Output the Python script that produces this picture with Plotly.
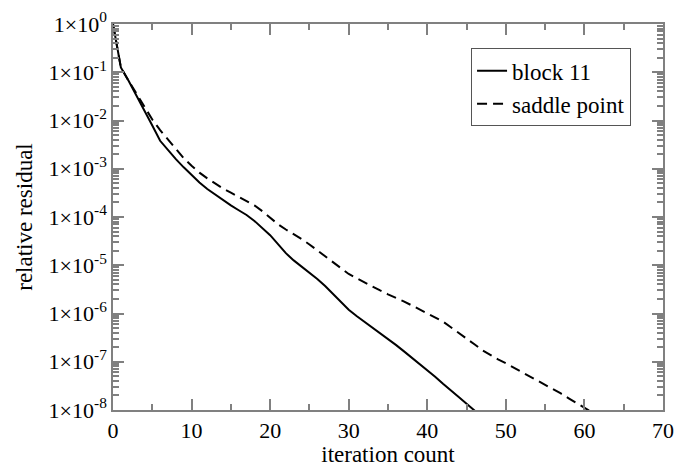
import plotly.graph_objects as go

# iteration counts
iter_block = list(range(0, 48))
iter_saddle = list(range(0, 62))

# relative residual, block 11 preconditioner
res_block = [1.0, 1.26e-1, 6.6e-2, 3.3e-2, 1.66e-2, 7.9e-3, 3.8e-3, 2.4e-3, 1.58e-3, 1.07e-3,
             7.4e-4, 5.2e-4, 3.8e-4, 2.9e-4, 2.2e-4, 1.74e-4, 1.38e-4, 1.10e-4, 8.3e-5, 6.0e-5,
             4.2e-5, 2.75e-5, 1.78e-5, 1.26e-5, 9.5e-6, 7.1e-6, 5.2e-6, 3.7e-6, 2.5e-6, 1.70e-6,
             1.20e-6, 8.9e-7, 6.8e-7, 5.1e-7, 4.0e-7, 3.0e-7, 2.24e-7, 1.66e-7, 1.23e-7, 9.1e-8,
             6.8e-8, 4.9e-8, 3.5e-8, 2.6e-8, 1.86e-8, 1.35e-8, 9.8e-9, 7.1e-9]

# relative residual, saddle point preconditioner
res_saddle = [1.0, 1.26e-1, 6.6e-2, 3.5e-2, 1.9e-2, 1.05e-2, 6.3e-3, 4.0e-3, 2.5e-3, 1.66e-3,
              1.15e-3, 8.3e-4, 6.3e-4, 4.9e-4, 3.9e-4, 3.2e-4, 2.6e-4, 2.14e-4, 1.74e-4, 1.32e-4,
              9.5e-5, 7.1e-5, 5.5e-5, 4.4e-5, 3.5e-5, 2.7e-5, 2.04e-5, 1.51e-5, 1.12e-5, 8.5e-6,
              6.6e-6, 5.4e-6, 4.4e-6, 3.6e-6, 3.0e-6, 2.5e-6, 2.14e-6, 1.78e-6, 1.48e-6, 1.23e-6,
              1.02e-6, 8.3e-7, 6.8e-7, 5.2e-7, 4.0e-7, 3.0e-7, 2.3e-7, 1.74e-7, 1.38e-7, 1.12e-7,
              9.3e-8, 7.6e-8, 6.2e-8, 5.0e-8, 4.1e-8, 3.3e-8, 2.7e-8, 2.2e-8, 1.74e-8, 1.41e-8,
              1.12e-8, 8.9e-9]

series_names = ["block 11", "saddle point"]

x_tickvals = [0, 10, 20, 30, 40, 50, 60, 70]
y_tickvals = [1e0, 1e-1, 1e-2, 1e-3, 1e-4, 1e-5, 1e-6, 1e-7, 1e-8]
y_ticktext = ["1\u00d710<sup>0</sup>", "1\u00d710<sup>-1</sup>", "1\u00d710<sup>-2</sup>",
              "1\u00d710<sup>-3</sup>", "1\u00d710<sup>-4</sup>", "1\u00d710<sup>-5</sup>",
              "1\u00d710<sup>-6</sup>", "1\u00d710<sup>-7</sup>", "1\u00d710<sup>-8</sup>"]

FONT = "Liberation Serif, Times New Roman, serif"
AX = "#808080"

fig = go.Figure()
fig.add_trace(go.Scatter(x=iter_block, y=res_block, mode="lines", name=series_names[0],
                         line=dict(color="black", width=2, dash="solid"), cliponaxis=True))
fig.add_trace(go.Scatter(x=iter_saddle, y=res_saddle, mode="lines", name=series_names[1],
                         line=dict(color="black", width=2, dash="10px,6px"), cliponaxis=True))

fig.update_layout(
    width=674, height=467,
    margin=dict(l=113, r=11, t=24, b=57),
    paper_bgcolor="white", plot_bgcolor="white",
    font=dict(family=FONT, size=22, color="black"),
    showlegend=True,
    legend=dict(x=0.651, y=0.937, xanchor="left", yanchor="top",
                bgcolor="white", bordercolor="#555555", borderwidth=1,
                font=dict(family=FONT, size=23), itemwidth=30,
                tracegroupgap=0, traceorder="normal"),
    xaxis=dict(range=[0, 70], tickvals=x_tickvals, ticks="inside", ticklen=11,
               tickcolor=AX, tickwidth=1.5, showline=True, linecolor=AX, linewidth=1.5,
               mirror="allticks", showgrid=False, zeroline=False, automargin=False,
               minor=dict(ticks="inside", ticklen=6, dtick=5, tickcolor=AX, tickwidth=1.5),
               title=dict(text="iteration count", font=dict(family=FONT, size=23), standoff=2),
               tickfont=dict(family=FONT, size=22)),
    yaxis=dict(type="log", range=[-8, 0], tickvals=y_tickvals, ticktext=y_ticktext,
               ticks="inside", ticklen=11, tickcolor=AX, tickwidth=1.5,
               showline=True, linecolor=AX, linewidth=1.5, mirror="allticks",
               showgrid=False, zeroline=False, automargin=False,
               minor=dict(ticks="inside", ticklen=6, dtick="D1", tickcolor=AX, tickwidth=1.5),
               title=dict(text="relative residual", font=dict(family=FONT, size=23), standoff=10),
               tickfont=dict(family=FONT, size=22)),
)

fig.write_html("out.html")
